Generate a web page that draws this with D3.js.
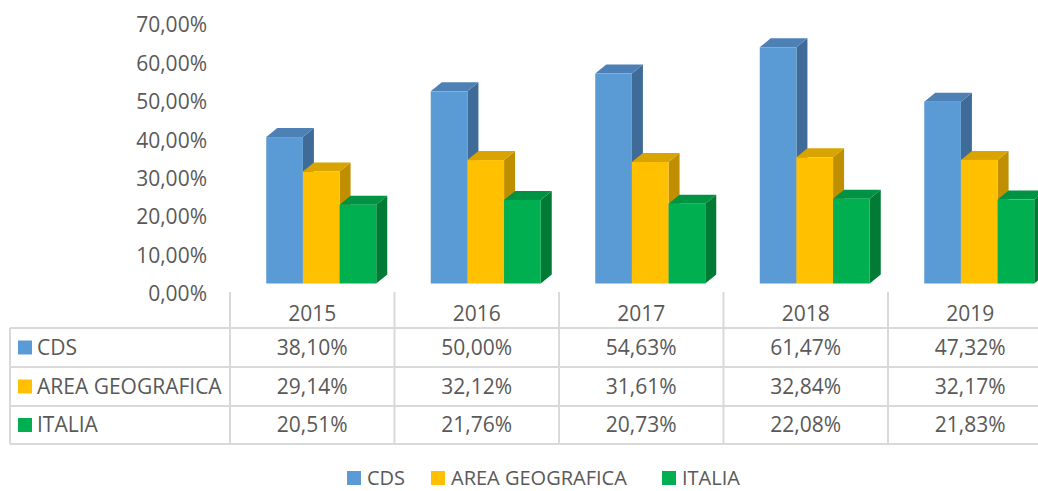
<!DOCTYPE html>
<html>
<head>
<meta charset="utf-8">
<script src="https://cdn.jsdelivr.net/npm/d3@7"></script>
<style>
  body { margin: 0; background: #fff; }
  text { font-family: "Open Sans", sans-serif; fill: #595959; }
</style>
</head>
<body>
<div id="chart"></div>
<script>
// Data
const years = ["2015", "2016", "2017", "2018", "2019"];
const seriesNames = ["CDS", "AREA GEOGRAFICA", "ITALIA"];
const cds = [38.10, 50.00, 54.63, 61.47, 47.32];
const area = [29.14, 32.12, 31.61, 32.84, 32.17];
const italia = [20.51, 21.76, 20.73, 22.08, 21.83];
const yTicks = [0, 10, 20, 30, 40, 50, 60, 70];

const values = [cds, area, italia];
const colors = [
  { front: "#5B9BD5", top: "#4d80b5", side: "#3e6b98" },
  { front: "#FFC000", top: "#d9a300", side: "#bf8f00" },
  { front: "#00B050", top: "#009343", side: "#007a35" },
];

const fmt = (v) => v.toFixed(2).replace(".", ",") + "%";

const dimensions = { width: 1038, height: 491 };
const depth = { dx: 11, dy: -9 };

const svg = d3
  .select("#chart")
  .append("svg")
  .attr("width", dimensions.width)
  .attr("height", dimensions.height);

// Scales
const xScale = d3.scaleBand().domain(years).range([230, 1052.5]);

const yAxisScale = d3.scaleLinear().domain([0, 70]).range([294, 25]);
// bar floor sits a bit higher than the axis (3D back wall)
const yBar = d3.scaleLinear().domain([0, 70]).range([283.5, 283.5 - 269]);

const groupWidth = 110;
const x1 = d3.scaleBand().domain(seriesNames).range([0, groupWidth]);

// Y axis labels (no line)
svg
  .append("g")
  .selectAll("text")
  .data(yTicks)
  .join("text")
  .attr("x", 207)
  .attr("y", (d) => yAxisScale(d))
  .attr("dy", "0.35em")
  .attr("text-anchor", "end")
  .style("font-size", "21px")
  .text((d) => fmt(d));

// 3D bars
const bars = svg.append("g");
years.forEach((yr, i) => {
  const gx = xScale(yr) + xScale.bandwidth() / 2 + 9 - groupWidth / 2;
  seriesNames.forEach((s, j) => {
    const v = values[j][i];
    const x = gx + x1(s);
    const w = x1.bandwidth();
    const top = yBar(v);
    const base = yBar(0);
    const c = colors[j];
    const g = bars.append("g");
    g.append("polygon")
      .attr(
        "points",
        [
          [x + w, top],
          [x + w + depth.dx, top + depth.dy],
          [x + w + depth.dx, base + depth.dy],
          [x + w, base],
        ].join(" ")
      )
      .attr("fill", c.side);
    g.append("polygon")
      .attr(
        "points",
        [
          [x, top],
          [x + depth.dx, top + depth.dy],
          [x + w + depth.dx, top + depth.dy],
          [x + w, top],
        ].join(" ")
      )
      .attr("fill", c.top);
    g.append("rect")
      .attr("x", x)
      .attr("y", top)
      .attr("width", w)
      .attr("height", base - top)
      .attr("fill", c.front);
  });
});

// Data table
const table = svg.append("g");
const rowLines = [328, 367, 406, 444];
const lineColor = "#d9d9d9";

rowLines.forEach((y) => {
  table
    .append("line")
    .attr("x1", 10)
    .attr("x2", dimensions.width)
    .attr("y1", y)
    .attr("y2", y)
    .attr("stroke", lineColor)
    .attr("stroke-width", 2);
});

table
  .append("line")
  .attr("x1", 10)
  .attr("x2", 10)
  .attr("y1", 328)
  .attr("y2", 444)
  .attr("stroke", lineColor)
  .attr("stroke-width", 2);

years.forEach((yr) => {
  table
    .append("line")
    .attr("x1", xScale(yr))
    .attr("x2", xScale(yr))
    .attr("y1", 292)
    .attr("y2", 444)
    .attr("stroke", lineColor)
    .attr("stroke-width", 2);
});

// header years
table
  .selectAll("text.year")
  .data(years)
  .join("text")
  .attr("class", "year")
  .attr("x", (d) => xScale(d) + xScale.bandwidth() / 2)
  .attr("y", 314)
  .attr("dy", "0.35em")
  .attr("text-anchor", "middle")
  .style("font-size", "21px")
  .text((d) => d);

// rows
seriesNames.forEach((s, j) => {
  const cy = (rowLines[j] + rowLines[j + 1]) / 2;
  table
    .append("rect")
    .attr("x", 18)
    .attr("y", cy - 7)
    .attr("width", 14)
    .attr("height", 14)
    .attr("fill", colors[j].front);
  table
    .append("text")
    .attr("x", 37)
    .attr("y", cy)
    .attr("dy", "0.35em")
    .style("font-size", "21px")
    .text(s);
  years.forEach((yr, i) => {
    table
      .append("text")
      .attr("x", xScale(yr) + xScale.bandwidth() / 2)
      .attr("y", cy)
      .attr("dy", "0.35em")
      .attr("text-anchor", "middle")
      .style("font-size", "21px")
      .text(fmt(values[j][i]));
  });
});

// Legend
const legendX = [347, 431, 662];
const legend = svg.append("g");
seriesNames.forEach((s, j) => {
  legend
    .append("rect")
    .attr("x", legendX[j])
    .attr("y", 471)
    .attr("width", 14)
    .attr("height", 14)
    .attr("fill", colors[j].front);
  legend
    .append("text")
    .attr("x", legendX[j] + 20)
    .attr("y", 485)
    .style("font-size", "20px")
    .text(s);
});
</script>
</body>
</html>
